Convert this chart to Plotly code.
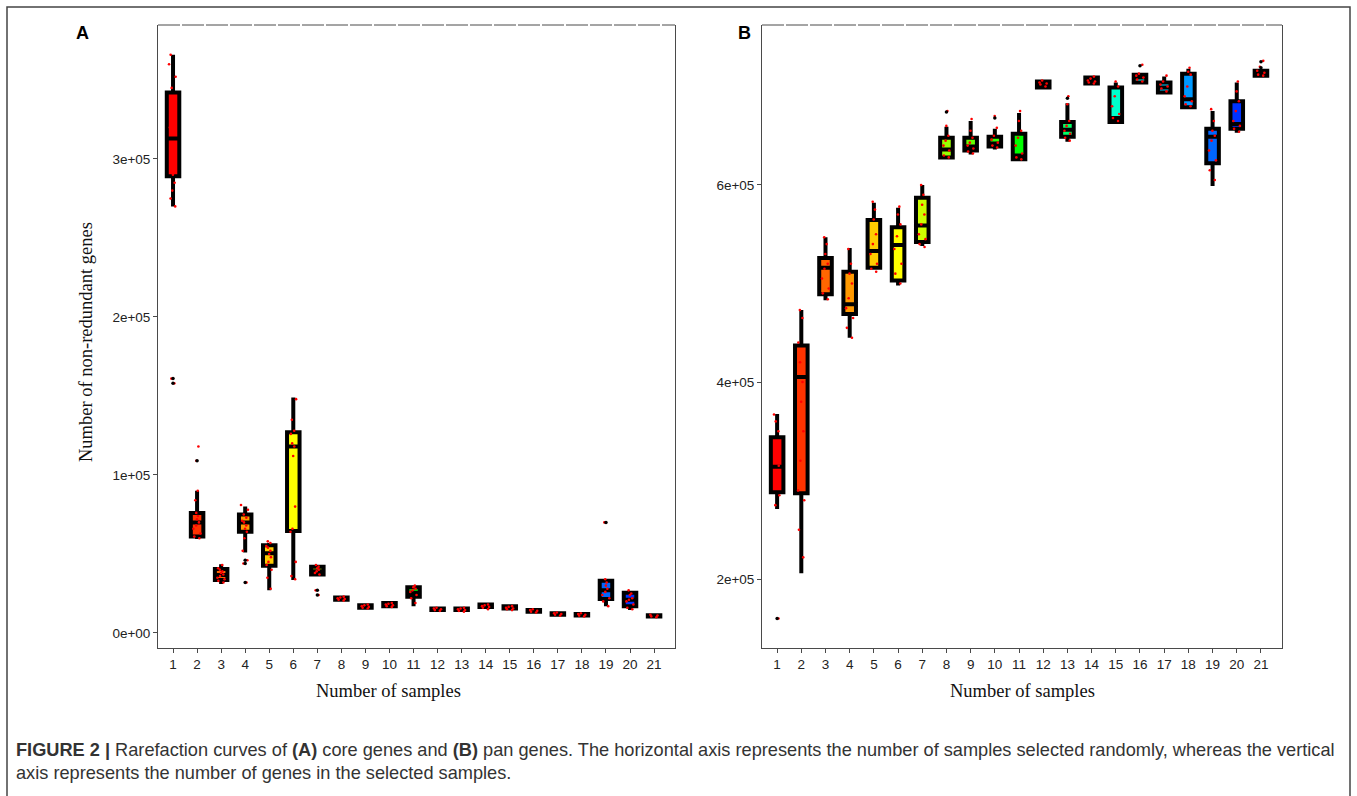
import plotly.graph_objects as go

W, H = 1357, 796

# ---------------- data ----------------
samples = list(range(1, 22))
tick_labels = [str(i) for i in samples]
box_colors = ["#FF0000", "#FF3300", "#FF6600", "#FF9900", "#FFCC00", "#FFFF00", "#CCFF00",
              "#99FF00", "#66FF00", "#33FF00", "#00FF00", "#00FF33", "#00FF66", "#00FF99",
              "#00FFCC", "#00FFFF", "#00CCFF", "#0099FF", "#0066FF", "#0033FF", "#0000FF"]

# Panel A: core genes (values in thousands)
core_low = [270, 59.5, 31, 51, 27, 33.5, 36.5, 20.5, 15.5, 16.5, 17, 14, 14, 15.5, 14.5, 13, 11, 10.5, 17, 14.5, 10]
core_q1 = [289, 61, 33.5, 64, 42.5, 64.5, 37, 21, 16, 17, 23, 14.5, 14.5, 16.5, 15.5, 13.5, 11.5, 11, 21.5, 17, 10.5]
core_median = [313, 70, 36.7, 70, 50.5, 118, 39, 21.5, 16.5, 18, 25.5, 15, 15, 17, 16, 14, 12, 11.5, 27, 21, 10.8]
core_q3 = [342, 76, 40.5, 75, 55.5, 127, 42, 22.5, 17.5, 19, 29, 15.5, 15.5, 18, 17, 14.5, 12.5, 12, 33, 25.5, 11.2]
core_high = [366, 90, 43.5, 80, 57, 149, 43, 23, 18, 19.5, 29.5, 16, 16, 18.5, 17.5, 15, 13, 12.5, 34, 26, 11.5]
core_outlier_x = [1, 1, 2, 4, 4, 4, 7, 7, 19]
core_outlier_y = [158, 161, 109, 46, 44, 32, 27, 24, 70]
core_points = [
    [366, 360, 352, 345, 330, 320, 310, 300, 290, 285, 280, 275, 270, 161, 158],
    [118, 90, 84, 76, 74, 72, 70, 68, 66, 63, 61, 60, 109],
    [43, 41, 40, 39, 38, 37, 36, 35, 34, 33, 32],
    [81, 78, 75, 73, 71, 70, 68, 66, 64, 60, 52, 46, 44, 32],
    [58, 57, 55, 54, 52, 50, 48, 45, 43, 40, 35, 28],
    [148, 135, 128, 126, 120, 118, 112, 80, 66, 64, 45, 36, 34],
    [43, 42, 41, 40, 39, 38, 37, 27, 24],
    [23, 22.5, 22, 21.5, 21, 20.5],
    [18, 17.5, 17, 16.5, 16, 15.5],
    [19, 18.5, 18, 17.5, 17, 16.5],
    [30, 29, 28, 27, 26, 24, 22, 19],
    [16, 15.5, 15, 14.5, 14],
    [16, 15.5, 15, 14.5, 14, 13.5],
    [18, 17.5, 17, 16.5, 16, 15],
    [17, 16.5, 16, 15.5, 15, 14.5],
    [15, 14.5, 14, 13.5, 13],
    [13, 12.5, 12, 11.5, 11],
    [12.5, 12, 11.5, 11, 10.5],
    [34, 32, 30, 28, 26, 24, 22, 20, 17, 70],
    [27, 25, 24, 22, 21, 20, 18, 16, 15],
    [11.5, 11, 10.5, 10],
]

# Panel B: pan genes (values in thousands)
pan_low = [271, 206, 483, 445, 514, 498, 538, 628, 631, 636, 626, 699, 644, 703, 664, 704, 694, 679, 599, 653, 711]
pan_q1 = [288, 287, 489, 469, 516, 503, 542, 628, 635, 639, 626, 699, 649, 703, 664, 704, 694, 679, 622, 657, 711]
pan_median = [314, 405, 516, 479, 533, 539, 559, 636, 639, 642, 630, 703, 656, 705, 668, 709, 699, 687, 649, 662, 714]
pan_q3 = [344, 437, 526, 512, 564.5, 557, 587, 648, 648, 649, 652, 705, 664, 709, 699, 712, 704, 713, 657, 685, 716]
pan_high = [367.5, 473, 547, 536, 582, 577, 600, 659, 665, 657, 673, 705, 683, 709, 704, 712, 710, 718, 675, 704, 716]
pan_outlier_x = [1, 8, 10, 13, 16, 21, 21]
pan_outlier_y = [160, 674, 668, 688, 721, 725, 719]
pan_points = [
    [367, 360, 350, 330, 315, 305, 295, 285, 275, 160],
    [473, 465, 440, 420, 400, 380, 350, 320, 290, 280, 250, 222],
    [547, 540, 530, 520, 515, 505, 495, 490, 484],
    [535, 520, 510, 500, 485, 475, 465, 455, 445],
    [583, 575, 565, 550, 540, 530, 520, 515, 512],
    [578, 570, 560, 548, 535, 520, 510, 500],
    [600, 590, 580, 570, 560, 550, 545, 540, 537],
    [675, 660, 650, 645, 640, 635, 630, 628],
    [667, 655, 648, 643, 640, 637, 634, 632],
    [670, 658, 650, 646, 643, 640, 638],
    [675, 665, 655, 648, 640, 632, 628, 626],
    [706, 704, 703, 702, 700],
    [690, 682, 665, 660, 655, 652, 648, 645],
    [710, 708, 706, 705, 704, 703],
    [705, 700, 690, 680, 672, 668, 665],
    [722, 713, 711, 709, 707, 705],
    [711, 705, 702, 700, 698, 695],
    [719, 715, 712, 700, 690, 685, 682, 680],
    [677, 665, 655, 650, 645, 635, 625, 615, 605],
    [705, 695, 685, 675, 665, 660, 657, 654],
    [726, 720, 716, 714, 712, 711],
]

core_ticks = [0, 100000, 200000, 300000]
core_tick_text = ["0e+00", "1e+05", "2e+05", "3e+05"]
pan_ticks = [200000, 400000, 600000]
pan_tick_text = ["2e+05", "4e+05", "6e+05"]

K = 1000.0


def px(x):
    return x / W


def py(y):
    return 1 - y / H


fig = go.Figure()


def add_panel(xa, ya, low, q1, med, q3, high, points, ox, oy):
    for i, s in enumerate(samples):
        fig.add_trace(go.Box(
            x=[s], q1=[q1[i] * K], median=[med[i] * K], q3=[q3[i] * K],
            lowerfence=[low[i] * K], upperfence=[high[i] * K],
            fillcolor=box_colors[i], line=dict(color="black", width=4),
            width=0.52, whiskerwidth=0, boxpoints=False,
            xaxis=xa, yaxis=ya, showlegend=False, hoverinfo="skip"))
    fig.add_trace(go.Scatter(
        x=ox, y=[v * K for v in oy], mode="markers",
        marker=dict(color="black", size=3.5), xaxis=xa, yaxis=ya,
        showlegend=False, hoverinfo="skip"))
    for i, s in enumerate(samples):
        fig.add_trace(go.Box(
            x=[s] * len(points[i]), y=[v * K for v in points[i]],
            boxpoints="all", jitter=0.7, pointpos=0,
            marker=dict(color="red", size=2.6),
            line=dict(color="rgba(0,0,0,0)", width=0),
            fillcolor="rgba(0,0,0,0)", width=0.52,
            xaxis=xa, yaxis=ya, showlegend=False, hoverinfo="skip"))


add_panel("x", "y", core_low, core_q1, core_median, core_q3, core_high,
          core_points, core_outlier_x, core_outlier_y)
add_panel("x2", "y2", pan_low, pan_q1, pan_median, pan_q3, pan_high,
          pan_points, pan_outlier_x, pan_outlier_y)

axis_color = "#4a4a4a"
tickfont = dict(family="Liberation Sans, Arial, sans-serif", size=13.5, color="#222")
common_x = dict(range=[0.375, 21.87], tickmode="array", tickvals=samples, ticktext=tick_labels,
                ticks="outside", ticklen=4, tickcolor=axis_color, showline=True,
                linecolor=axis_color, linewidth=1, showgrid=False, zeroline=False,
                tickfont=tickfont)
common_y = dict(tickmode="array", ticks="outside", ticklen=4, tickcolor=axis_color,
                showline=True, linecolor=axis_color, linewidth=1, mirror=True,
                showgrid=False, zeroline=False, tickfont=tickfont)

fig.update_layout(
    width=W, height=H, margin=dict(l=0, r=0, t=0, b=0),
    paper_bgcolor="white", plot_bgcolor="white", boxmode="overlay",
    xaxis=dict(domain=[px(158), px(675)], anchor="y", **common_x),
    yaxis=dict(domain=[py(648), py(25)], anchor="x", range=[-9500, 384800],
               tickvals=core_ticks, ticktext=core_tick_text, **common_y),
    xaxis2=dict(domain=[px(762), px(1282)], anchor="y2", **common_x),
    yaxis2=dict(domain=[py(648), py(25)], anchor="x2", range=[130000, 762400],
                tickvals=pan_ticks, ticktext=pan_tick_text, **common_y),
)

shapes = [
    # outer frame
    dict(type="rect", xref="paper", yref="paper", x0=px(7), x1=px(1350), y0=py(830), y1=py(7),
         line=dict(color="#444", width=1.5), layer="below"),
    # dashed top borders
    dict(type="line", xref="paper", yref="paper", x0=px(158), x1=px(675), y0=py(25), y1=py(25),
         line=dict(color=axis_color, width=1, dash="22px,2px")),
    dict(type="line", xref="paper", yref="paper", x0=px(762), x1=px(1282), y0=py(25), y1=py(25),
         line=dict(color=axis_color, width=1, dash="22px,2px")),
]
fig.update_layout(shapes=shapes)

serif = "Liberation Serif, Times New Roman, serif"
sans = "Liberation Sans, Arial, sans-serif"
ann = [
    dict(text="<b>A</b>", x=px(82), y=py(33), font=dict(family=sans, size=18, color="black")),
    dict(text="<b>B</b>", x=px(745), y=py(33), font=dict(family=sans, size=18, color="black")),
    dict(text="Number of samples", x=px(388), y=py(691), font=dict(family=serif, size=18.5, color="#111")),
    dict(text="Number of samples", x=px(1022), y=py(691), font=dict(family=serif, size=18.5, color="#111")),
    dict(text="Number of non-redundant genes", x=px(86), y=py(342), textangle=-90,
         font=dict(family=serif, size=18.5, color="#111")),
]
for a in ann:
    a.update(xref="paper", yref="paper", showarrow=False, xanchor="center", yanchor="middle")

cap_font = dict(family=sans, size=18.2, color="#333")
ann.append(dict(text="<b>FIGURE 2 |</b> Rarefaction curves of <b>(A)</b> core genes and <b>(B)</b> pan genes. "
                     "The horizontal axis represents the number of samples selected randomly, whereas the vertical",
                x=px(14), y=py(750), xref="paper", yref="paper", showarrow=False,
                xanchor="left", yanchor="middle", font=cap_font))
ann.append(dict(text="axis represents the number of genes in the selected samples.",
                x=px(14), y=py(773), xref="paper", yref="paper", showarrow=False,
                xanchor="left", yanchor="middle", font=cap_font))
fig.update_layout(annotations=ann)

fig.write_html("out.html", config={"displayModeBar": False},
               post_script="document.body.style.margin='0px';document.body.style.overflow='hidden';")
